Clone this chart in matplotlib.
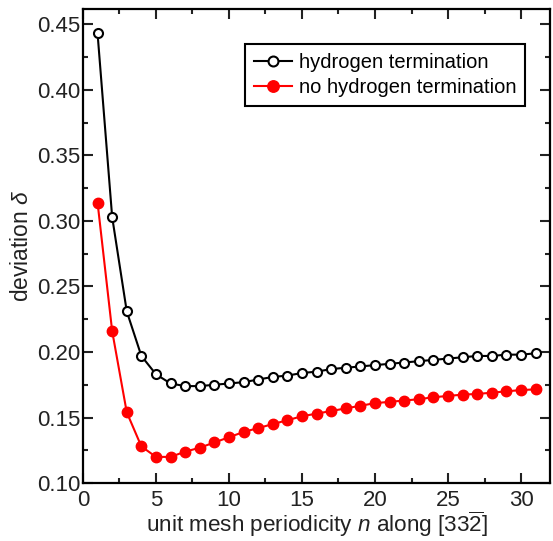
import numpy as np
import matplotlib
matplotlib.use("Agg")
import matplotlib.pyplot as plt
from matplotlib.ticker import MultipleLocator

plt.rcParams.update({
    "font.family": "Liberation Sans",
    "mathtext.fontset": "custom",
    "mathtext.rm": "Liberation Sans",
    "mathtext.it": "Liberation Sans:italic",
    "font.size": 13,
})

# unit mesh periodicity n
n = np.arange(1, 32)
# deviation delta, hydrogen termination (open black)
dev_h = [0.443, 0.303, 0.231, 0.197, 0.183, 0.176, 0.174, 0.174, 0.175, 0.176,
         0.177, 0.179, 0.181, 0.182, 0.184, 0.185, 0.187, 0.188, 0.189, 0.190,
         0.191, 0.192, 0.193, 0.194, 0.195, 0.196, 0.197, 0.197, 0.198, 0.198, 0.199]
# deviation delta, no hydrogen termination (filled red)
dev_noh = [0.314, 0.216, 0.154, 0.128, 0.120, 0.120, 0.124, 0.127, 0.131, 0.135,
           0.139, 0.142, 0.145, 0.148, 0.151, 0.153, 0.155, 0.157, 0.159, 0.161,
           0.162, 0.163, 0.164, 0.1655, 0.1665, 0.1675, 0.168, 0.169, 0.170, 0.171, 0.1715]

fig = plt.figure(figsize=(5.53, 5.41), dpi=100)
ax = fig.add_axes([0.150, 0.107, 0.845, 0.876])

ax.plot(n, dev_h, "-o", color="black", lw=1.5, ms=6.5, mfc="white", mec="black",
        mew=1.5, label="hydrogen termination")
ax.plot(n, dev_noh, "-o", color="#ff0000", lw=1.5, ms=7.5, mfc="#ff0000", mec="#ff0000",
        label="no hydrogen termination")

ax.set_xlim(0, 32)
ax.set_ylim(0.10, 0.4615)
ax.xaxis.set_major_locator(MultipleLocator(5))
ax.xaxis.set_minor_locator(MultipleLocator(2.5))
ax.yaxis.set_major_locator(MultipleLocator(0.05))
ax.yaxis.set_minor_locator(MultipleLocator(0.025))
ax.yaxis.set_major_formatter(matplotlib.ticker.FormatStrFormatter("%.2f"))
ax.tick_params(which="both", direction="in", top=True, right=True, width=1.5,
               labelsize=16, colors="#222222")
ax.tick_params(axis="y", pad=2)
ax.tick_params(axis="x", pad=5)
ax.tick_params(which="major", length=7)
ax.tick_params(which="minor", length=3.5)
for s in ax.spines.values():
    s.set_linewidth(1.6)

ax.set_xlabel(r"unit mesh periodicity $n$ along [33$\overline{2}$]", fontsize=16.2,
              color="#222222", labelpad=-1)
ax.set_ylabel(r"deviation $\delta$", fontsize=16.4, color="#222222", labelpad=3)

leg = ax.legend(loc="upper right", bbox_to_anchor=(0.947, 0.927), borderaxespad=0,
                fontsize=14.5, fancybox=False, edgecolor="black", framealpha=1,
                handlelength=1.9, handletextpad=0.35, borderpad=0.45, labelspacing=0.3,
                markerscale=1.1)
leg.get_frame().set_linewidth(1.5)

fig.savefig("out.png", dpi=100, facecolor="white")
